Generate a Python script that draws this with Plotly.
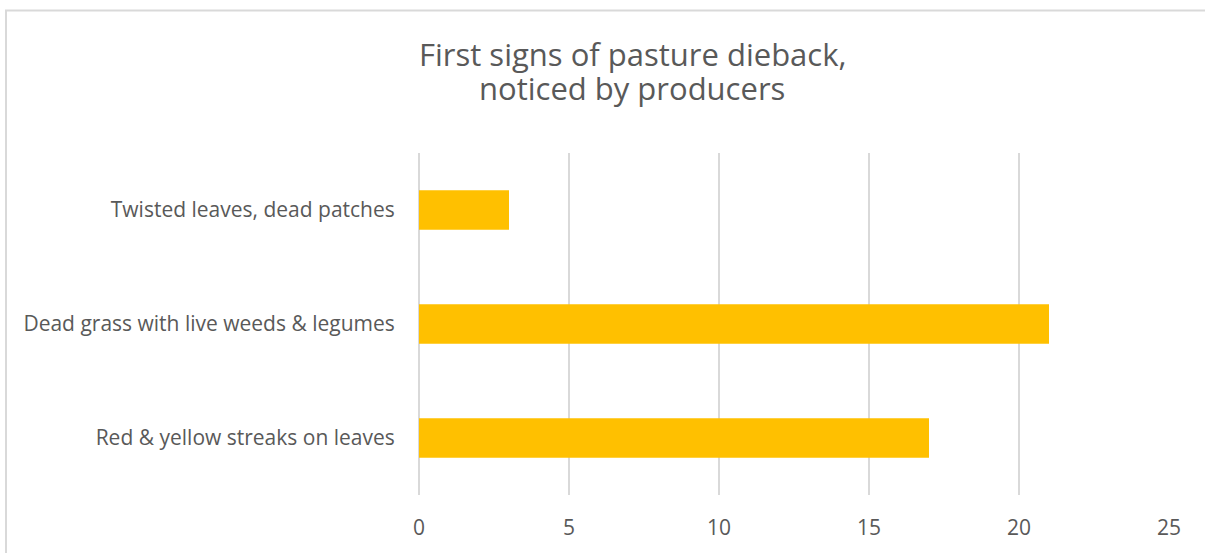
import plotly.graph_objects as go

# Survey responses: first signs of pasture dieback noticed by producers
categories = [
    "Twisted leaves, dead patches",
    "Dead grass with live weeds & legumes",
    "Red & yellow streaks on leaves",
]
counts = [3, 21, 17]
x_ticks = [0, 5, 10, 15, 20, 25]
title_lines = ["First signs of pasture dieback,", "noticed by producers"]

TEXT = "#595959"
GRID = "#D9D9D9"
FONT = "Open Sans"

W, H = 1205, 553
L, R, T, B = 419, 36, 153, 52
pw, ph = W - L - R, H - T - B


def px_x(p):
    return (p - L) / pw


def px_y(p):
    return (H - B - p) / ph


fig = go.Figure(
    go.Bar(
        x=counts,
        y=categories,
        orientation="h",
        width=0.347,
        marker=dict(color="#FFC000", line=dict(width=0)),
    )
)

# outer chart frame (extends beyond the right/bottom edges of the page)
fig.add_shape(
    type="rect", xref="paper", yref="paper",
    x0=px_x(6), x1=2.0, y0=-1.0, y1=px_y(8),
    line=dict(color=GRID, width=2), fillcolor="rgba(0,0,0,0)", layer="below",
)

# two-line chart title, tight leading
for line, yc in zip(title_lines, [52, 87]):
    fig.add_annotation(
        text=line, xref="paper", yref="paper",
        x=px_x(632), y=px_y(yc), xanchor="center", yanchor="middle",
        showarrow=False, font=dict(family=FONT, size=31, color=TEXT),
    )

fig.update_layout(
    width=W, height=H,
    margin=dict(l=L, r=R, t=T, b=B, pad=0),
    paper_bgcolor="white", plot_bgcolor="white",
    showlegend=False,
    font=dict(family=FONT, color=TEXT),
    xaxis=dict(
        range=[0, 25], tickvals=x_ticks,
        showgrid=True, gridcolor=GRID, gridwidth=1.5,
        zeroline=True, zerolinecolor=GRID, zerolinewidth=1.5,
        showline=False,
        ticks="outside", ticklen=14, tickcolor="rgba(0,0,0,0)",
        tickfont=dict(family=FONT, size=21, color=TEXT),
        fixedrange=True,
    ),
    yaxis=dict(
        autorange="reversed",
        showgrid=False, showline=False, zeroline=False,
        ticks="outside", ticklen=19, tickcolor="rgba(0,0,0,0)",
        tickfont=dict(family=FONT, size=21, color=TEXT),
        fixedrange=True,
    ),
)

fig.write_html("out.html")
